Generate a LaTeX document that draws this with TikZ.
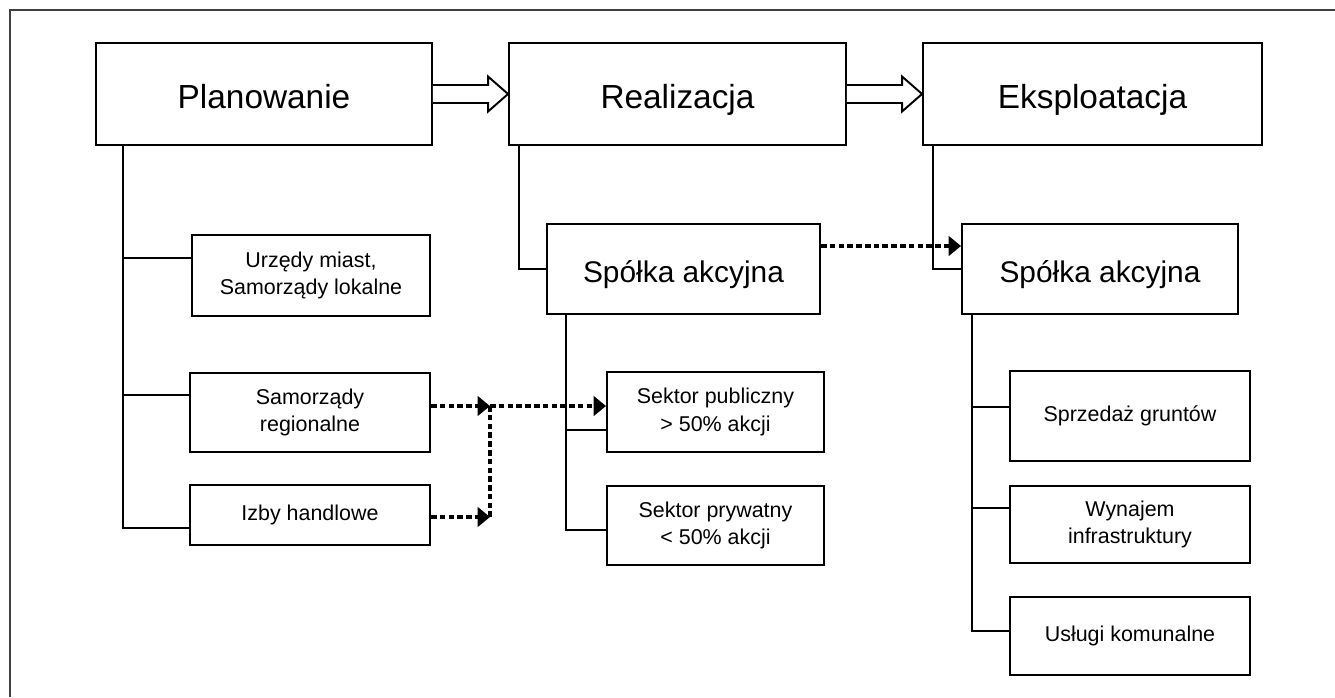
\documentclass[tikz,border=0pt]{standalone}
\usepackage{fontspec}
\setmainfont{Liberation Sans}
\usetikzlibrary{arrows.meta,calc}
\tikzset{
  box/.style={draw, line width=1.1pt, align=center, inner sep=0pt},
  bigbox/.style={box, font=\fontsize{19}{23}\selectfont, text height=17pt, text depth=0.5pt},
  midbox/.style={box, font=\fontsize{17}{20}\selectfont, text height=15.5pt, text depth=0pt},
  smallbox/.style={box, font=\fontsize{12.2}{15.5}\selectfont},
  link/.style={line width=1.1pt},
  dashline/.style={line width=1.8pt, dash pattern=on 3.2pt off 1.8pt},
  dashlink/.style={dashline, -{Triangle[length=7pt,width=11pt]}},
  hollow/.style={line width=1.1pt, fill=white}
}
\newcommand{\hollowarrow}[2]{
  \draw[hollow] ($(#1.east)+(0,-9)$) -- ($(#2.west)+(-20,-9)$) -- ++(0,-8.5) -- (#2.west)
    -- ++(-20,17.5) -- ++(0,-8.5) -- ($(#1.east)+(0,9)$);
}
\begin{document}
\begin{tikzpicture}[x=0.02cm, y=-0.02cm]
        \useasboundingbox (0,0) rectangle (1335,697);
        \draw[line width=1pt, black!75] (10,697) -- (10,10) -- (1335,10);
        \node[bigbox, minimum width=336*0.02cm, minimum height=102*0.02cm] (plan) at (264,94) {Planowanie};
        \node[bigbox, minimum width=337*0.02cm, minimum height=102*0.02cm] (real) at (677.5,94) {Realizacja};
        \node[bigbox, minimum width=339*0.02cm, minimum height=102*0.02cm] (eksp) at (1092.5,94) {Eksploatacja};
        \node[smallbox, minimum width=238*0.02cm, minimum height=81*0.02cm] (urz) at (311,275.5) {Urzędy miast,\\Samorządy lokalne};
        \node[smallbox, minimum width=240*0.02cm, minimum height=79*0.02cm] (samreg) at (310,412.5) {Samorządy\\regionalne};
        \node[smallbox, minimum width=240*0.02cm, minimum height=60*0.02cm] (izby) at (310,515) {Izby handlowe};
        \node[midbox, minimum width=273*0.02cm, minimum height=90*0.02cm] (spolka1) at (683.5,269) {Spółka akcyjna};
        \node[midbox, minimum width=276*0.02cm, minimum height=90*0.02cm] (spolka2) at (1100,269) {Spółka akcyjna};
        \node[smallbox, minimum width=217*0.02cm, minimum height=80*0.02cm] (pub) at (715.5,412) {Sektor publiczny\\> 50\% akcji};
        \node[smallbox, minimum width=217*0.02cm, minimum height=79*0.02cm] (pryw) at (715.5,525.5) {Sektor prywatny\\< 50\% akcji};
        \node[smallbox, minimum width=240*0.02cm, minimum height=90*0.02cm] (sprz) at (1130,416) {Sprzedaż gruntów};
        \node[smallbox, minimum width=240*0.02cm, minimum height=77*0.02cm] (wyn) at (1130,524.5) {Wynajem\\infrastruktury};
        \node[smallbox, minimum width=240*0.02cm, minimum height=78*0.02cm] (usl) at (1130,636) {Usługi komunalne};
        \hollowarrow{plan}{real}
        \hollowarrow{real}{eksp}
        \coordinate (plansp) at ($(plan.south west)+(28,0)$);
        \coordinate (s1sp) at ($(spolka1.south west)+(20,0)$);
        \coordinate (s2sp) at ($(spolka2.south west)+(11,0)$);
        \draw[link] (plansp) |- ($(izby.west)+(0,13)$);
        \draw[link] ($(urz.west)+(0,-17.5)$) -| (plansp);
        \draw[link] ($(samreg.west)+(0,-17.5)$) -| (plansp);
        \draw[link] ($(real.south west)+(11,0)$) |- (spolka1.west);
        \draw[link] ($(eksp.south west)+(11,0)$) |- (spolka2.west);
        \draw[link] (s1sp) |- ($(pryw.west)+(0,4.5)$);
        \draw[link] ($(pub.west)+(0,18)$) -| (s1sp);
        \draw[link] (s2sp) |- ($(usl.west)+(0,-5)$);
        \draw[link] ($(sprz.west)+(0,-9)$) -| (s2sp);
        \draw[link] ($(wyn.west)+(0,-16.5)$) -| (s2sp);
        \coordinate (jn) at (490,406);
        \coordinate (jn2) at (490,517);
        \draw[dashline] (jn) -- (jn2);
        \draw[dashlink] ($(samreg.east)+(0,-6.5)$) -- (jn);
        \draw[dashlink] (jn) -- ($(pub.west)+(0,-6)$);
        \draw[dashlink] (izby.east |- jn2) -- (jn2);
        \draw[dashlink] ($(spolka1.east)+(0,-23)$) -- ($(spolka2.west)+(0,-23)$);
\end{tikzpicture}
\end{document}
